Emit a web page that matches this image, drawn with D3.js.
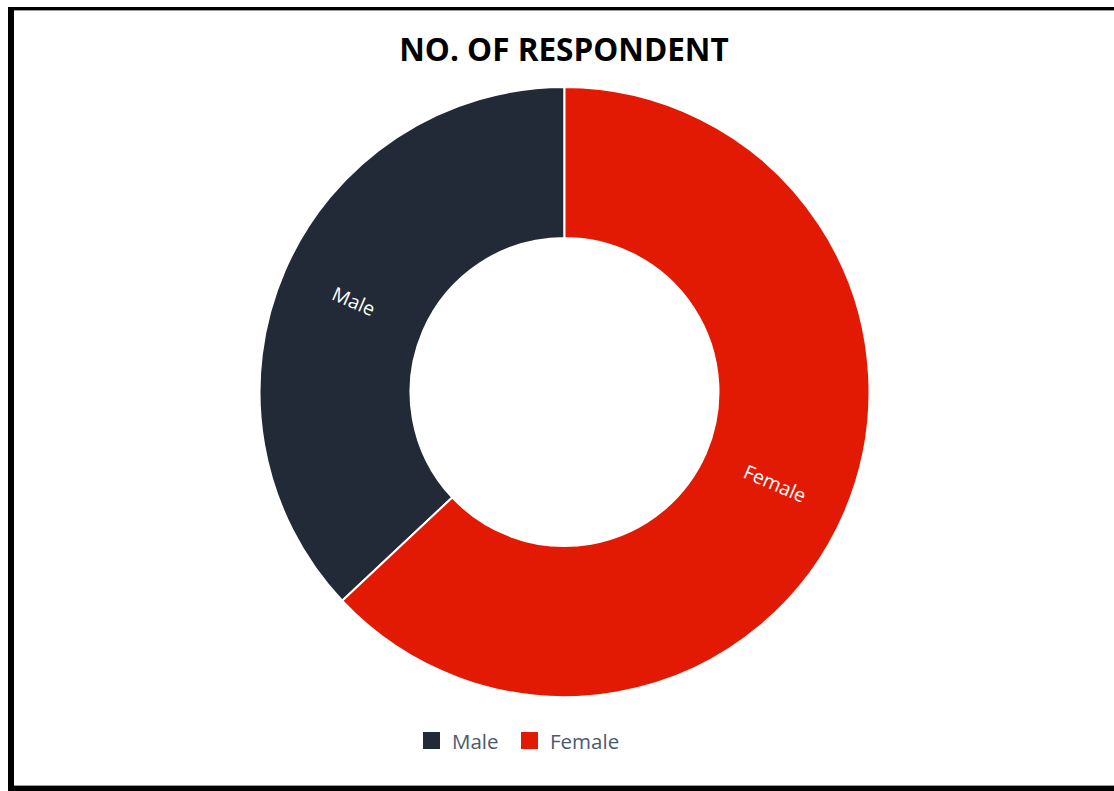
<!DOCTYPE html>
<html>
<head>
<meta charset="utf-8">
<script src="https://cdn.jsdelivr.net/npm/d3@7/dist/d3.min.js"></script>
<style>
  html, body { margin: 0; padding: 0; background: #fff; }
  svg { display: block; }
</style>
</head>
<body>
<svg id="chart" width="1114" height="791"></svg>
<script>
// Respondents by gender
const categories = ["Male", "Female"];
const values = [37, 63];
const colors = ["#222a37", "#e31a03"];
const title = "NO. OF RESPONDENT";

const svg = d3.select("#chart");
const W = 1114, H = 791;

svg.append("rect").attr("width", W).attr("height", H).attr("fill", "#fff");

// frame around the chart area
svg.append("rect").attr("x", 8).attr("y", 7).attr("width", W + 20).attr("height", 3).attr("fill", "#000");
svg.append("rect").attr("x", 8).attr("y", 7).attr("width", 6).attr("height", H).attr("fill", "#000");
svg.append("rect").attr("x", 8).attr("y", 786).attr("width", W + 20).attr("height", 10).attr("fill", "#000");
svg.append("rect").attr("x", 14).attr("y", 10).attr("width", W).attr("height", 1).attr("fill", "#9a9a9a");
svg.append("rect").attr("x", 14).attr("y", 785).attr("width", W).attr("height", 1).attr("fill", "#9a9a9a");

svg.append("text")
  .attr("x", 564).attr("y", 61)
  .attr("text-anchor", "middle")
  .attr("font-family", "'Open Sans', sans-serif")
  .attr("font-weight", "bold")
  .attr("font-size", 31.5)
  .attr("fill", "#000")
  .text(title);

const cx = 564.5, cy = 392, R = 305, r = 154;
const data = categories.map((c, i) => ({ name: c, value: values[i], color: colors[i] }));

// Female starts at 12 o'clock going clockwise; Male fills the rest
const pie = d3.pie().value(d => d.value).sort(null)
  .startAngle(2 * Math.PI).endAngle(0);
const arcs = pie(data);
const arc = d3.arc().innerRadius(r).outerRadius(R);
const labelArc = d3.arc().innerRadius((R + r) / 2).outerRadius((R + r) / 2);

const g = svg.append("g").attr("transform", `translate(${cx},${cy})`);

g.selectAll("path.slice")
  .data(arcs)
  .join("path")
  .attr("class", "slice")
  .attr("d", arc)
  .attr("fill", d => d.data.color)
  .attr("stroke", "#fff")
  .attr("stroke-width", 2);

g.selectAll("text.lbl")
  .data(arcs)
  .join("text")
  .attr("class", "lbl")
  .attr("transform", d => {
    const [x, y] = labelArc.centroid(d);
    const mid = (d.startAngle + d.endAngle) / 2 * 180 / Math.PI;
    let rot = mid - 90;
    if (rot > 90) rot -= 180;
    if (rot < -90) rot += 180;
    return `translate(${x},${y}) rotate(${rot})`;
  })
  .attr("text-anchor", "middle")
  .attr("dominant-baseline", "central")
  .attr("font-family", "'Open Sans', sans-serif")
  .attr("font-size", 19.5)
  .attr("fill", "#fff")
  .text(d => d.data.name);

// legend
const legend = svg.append("g").attr("transform", "translate(423,732)");
const items = [{ x: 0 }, { x: 98 }];
data.forEach((d, i) => {
  const it = legend.append("g").attr("transform", `translate(${items[i].x},0)`);
  it.append("rect").attr("width", 17).attr("height", 17).attr("fill", d.color);
  it.append("text")
    .attr("x", 29).attr("y", 9)
    .attr("dominant-baseline", "central")
    .attr("font-family", "'Open Sans', sans-serif")
    .attr("font-size", 20.5)
    .attr("fill", "#4b5a6e")
    .text(d.name);
});
</script>
</body>
</html>
